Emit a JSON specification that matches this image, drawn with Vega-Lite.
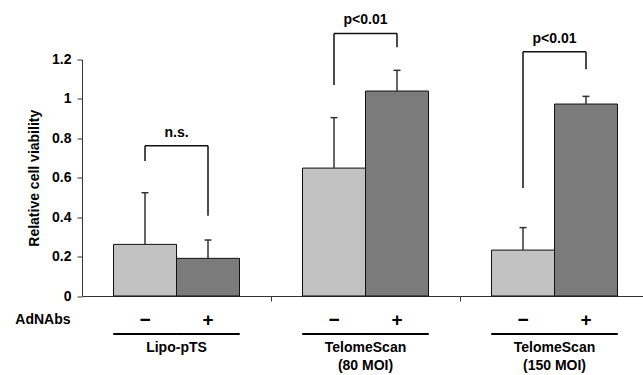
{
  "$schema": "https://vega.github.io/schema/vega-lite/v6.json",
  "autosize": "none",
  "width": 561,
  "height": 236.5,
  "padding": {"left": 82, "top": 59.5, "right": 0, "bottom": 79},
  "background": "white",
  "config": {
    "view": {"stroke": null},
    "font": "Liberation Sans",
    "axis": {
      "labelFont": "Liberation Sans",
      "titleFont": "Liberation Sans",
      "labelFontWeight": "bold",
      "titleFontWeight": "bold",
      "labelColor": "#000",
      "titleColor": "#000",
      "grid": false,
      "domainColor": "#333",
      "tickColor": "#333",
      "labelOverlap": false
    },
    "axisX": {
      "titleX": -12, "titleY": 23, "titleAlign": "right", "titleBaseline": "middle", "titleAngle": 0, "titleFontSize": 14,
      "labelAngle": 0, "labelFontSize": 19, "labelBaseline": "middle", "labelPadding": 18,
      "tickSize": 5, "domainWidth": 1
    },
    "axisY": {
      "labelFontSize": 14, "titleFontSize": 14, "tickSize": 5, "labelPadding": 6, "titlePadding": 10
    }
  },
  "datasets": {
    "bars": [
      {"cond": "L-", "group": "Lipo-pTS", "AdNAbs": "−", "viability": 0.262, "upper": 0.524},
      {"cond": "L+", "group": "Lipo-pTS", "AdNAbs": "+", "viability": 0.191, "upper": 0.284},
      {"cond": "T80-", "group": "TelomeScan (80 MOI)", "AdNAbs": "−", "viability": 0.649, "upper": 0.905},
      {"cond": "T80+", "group": "TelomeScan (80 MOI)", "AdNAbs": "+", "viability": 1.04, "upper": 1.145},
      {"cond": "T150-", "group": "TelomeScan (150 MOI)", "AdNAbs": "−", "viability": 0.233, "upper": 0.347},
      {"cond": "T150+", "group": "TelomeScan (150 MOI)", "AdNAbs": "+", "viability": 0.974, "upper": 1.013}
    ],
    "brackets": [
      {"left": "L-", "right": "L+", "top": 0.763, "leftEnd": 0.685, "rightEnd": 0.407, "label": "n.s."},
      {"left": "T80-", "right": "T80+", "top": 1.332, "leftEnd": 1.07, "rightEnd": 1.262, "label": "p<0.01"},
      {"left": "T150-", "right": "T150+", "top": 1.239, "leftEnd": 0.548, "rightEnd": 1.15, "label": "p<0.01"}
    ],
    "groups": [
      {"pos": "L-", "label": ["Lipo-pTS"]},
      {"pos": "T80-", "label": ["TelomeScan", "(80 MOI)"]},
      {"pos": "T150-", "label": ["TelomeScan", "(150 MOI)"]}
    ]
  },
  "layer": [
    {
      "data": {"name": "bars"},
      "mark": {"type": "bar", "stroke": "#111", "strokeWidth": 1},
      "encoding": {
        "x": {
          "field": "cond", "type": "nominal",
          "scale": {"domain": ["L-", "L+", "gap1", "T80-", "T80+", "gap2", "T150-", "T150+"], "range": [0, 567], "paddingInner": 0, "paddingOuter": 0.5},
          "axis": {"title": "AdNAbs", "labelExpr": "indexof(datum.value,'gap')===0 ? '' : (slice(datum.value,-1)==='-' ? '−' : '+')", "tickOpacity": {"condition": {"test": "indexof(datum.value,'gap')===0", "value": 1}, "value": 0}}
        },
        "y": {
          "field": "viability", "type": "quantitative",
          "scale": {"domain": [0, 1.2], "nice": false},
          "axis": {"title": "Relative cell viability", "values": [0, 0.2, 0.4, 0.6, 0.8, 1, 1.2], "format": "~g"}
        },
        "color": {"field": "AdNAbs", "type": "nominal", "scale": {"domain": ["−", "+"], "range": ["#c2c2c2", "#7b7b7b"]}, "legend": null}
      }
    },
    {
      "data": {"name": "bars"},
      "mark": {"type": "rule", "color": "#333", "strokeWidth": 1.5},
      "encoding": {
        "x": {"field": "cond", "type": "nominal", "bandPosition": 0.5, "axis": {"title": "AdNAbs", "labelExpr": "indexof(datum.value,'gap')===0 ? '' : (slice(datum.value,-1)==='-' ? '−' : '+')", "tickOpacity": {"condition": {"test": "indexof(datum.value,'gap')===0", "value": 1}, "value": 0}}},
        "y": {"field": "viability", "type": "quantitative", "axis": {"title": "Relative cell viability", "values": [0, 0.2, 0.4, 0.6, 0.8, 1, 1.2], "format": "~g"}},
        "y2": {"field": "upper"}
      }
    },
    {
      "data": {"name": "bars"},
      "mark": {"type": "tick", "color": "#333", "size": 7, "thickness": 1.5, "opacity": 1},
      "encoding": {
        "x": {"field": "cond", "type": "nominal", "axis": {"title": "AdNAbs", "labelExpr": "indexof(datum.value,'gap')===0 ? '' : (slice(datum.value,-1)==='-' ? '−' : '+')", "tickOpacity": {"condition": {"test": "indexof(datum.value,'gap')===0", "value": 1}, "value": 0}}},
        "y": {"field": "upper", "type": "quantitative", "axis": {"title": "Relative cell viability", "values": [0, 0.2, 0.4, 0.6, 0.8, 1, 1.2], "format": "~g"}}
      }
    },
    {
      "data": {"name": "brackets"},
      "mark": {"type": "rule", "color": "#111", "strokeWidth": 1.5},
      "encoding": {
        "x": {"field": "left", "type": "nominal", "bandPosition": 0.5, "axis": {"title": "AdNAbs", "labelExpr": "indexof(datum.value,'gap')===0 ? '' : (slice(datum.value,-1)==='-' ? '−' : '+')", "tickOpacity": {"condition": {"test": "indexof(datum.value,'gap')===0", "value": 1}, "value": 0}}},
        "y": {"field": "leftEnd", "type": "quantitative", "axis": {"title": "Relative cell viability", "values": [0, 0.2, 0.4, 0.6, 0.8, 1, 1.2], "format": "~g"}},
        "y2": {"field": "top"}
      }
    },
    {
      "data": {"name": "brackets"},
      "mark": {"type": "rule", "color": "#111", "strokeWidth": 1.5},
      "encoding": {
        "x": {"field": "right", "type": "nominal", "bandPosition": 0.5, "axis": {"title": "AdNAbs", "labelExpr": "indexof(datum.value,'gap')===0 ? '' : (slice(datum.value,-1)==='-' ? '−' : '+')", "tickOpacity": {"condition": {"test": "indexof(datum.value,'gap')===0", "value": 1}, "value": 0}}},
        "y": {"field": "rightEnd", "type": "quantitative", "axis": {"title": "Relative cell viability", "values": [0, 0.2, 0.4, 0.6, 0.8, 1, 1.2], "format": "~g"}},
        "y2": {"field": "top"}
      }
    },
    {
      "data": {"name": "brackets"},
      "mark": {"type": "rule", "color": "#111", "strokeWidth": 1.5},
      "encoding": {
        "x": {"field": "left", "type": "nominal", "bandPosition": 0.5, "axis": {"title": "AdNAbs", "labelExpr": "indexof(datum.value,'gap')===0 ? '' : (slice(datum.value,-1)==='-' ? '−' : '+')", "tickOpacity": {"condition": {"test": "indexof(datum.value,'gap')===0", "value": 1}, "value": 0}}},
        "x2": {"field": "right", "bandPosition": 0.5},
        "y": {"field": "top", "type": "quantitative", "axis": {"title": "Relative cell viability", "values": [0, 0.2, 0.4, 0.6, 0.8, 1, 1.2], "format": "~g"}}
      }
    },
    {
      "data": {"name": "brackets"},
      "mark": {"type": "text", "fontSize": 14, "fontWeight": "bold", "baseline": "middle", "dy": -13, "color": "#000"},
      "encoding": {
        "x": {"field": "left", "type": "nominal", "bandPosition": 1, "axis": {"title": "AdNAbs", "labelExpr": "indexof(datum.value,'gap')===0 ? '' : (slice(datum.value,-1)==='-' ? '−' : '+')", "tickOpacity": {"condition": {"test": "indexof(datum.value,'gap')===0", "value": 1}, "value": 0}}},
        "y": {"field": "top", "type": "quantitative", "axis": {"title": "Relative cell viability", "values": [0, 0.2, 0.4, 0.6, 0.8, 1, 1.2], "format": "~g"}},
        "text": {"field": "label"}
      }
    },
    {
      "data": {"name": "bars"},
      "mark": {"type": "tick", "color": "#000", "size": 63.5, "thickness": 2, "opacity": 1, "yOffset": 38},
      "encoding": {
        "x": {"field": "cond", "type": "nominal", "axis": {"title": "AdNAbs", "labelExpr": "indexof(datum.value,'gap')===0 ? '' : (slice(datum.value,-1)==='-' ? '−' : '+')", "tickOpacity": {"condition": {"test": "indexof(datum.value,'gap')===0", "value": 1}, "value": 0}}},
        "y": {"datum": 0, "type": "quantitative", "axis": {"title": "Relative cell viability", "values": [0, 0.2, 0.4, 0.6, 0.8, 1, 1.2], "format": "~g"}}
      }
    },
    {
      "data": {"name": "groups"},
      "mark": {"type": "text", "fontSize": 14, "fontWeight": "bold", "baseline": "top", "dy": 45, "lineHeight": 18, "color": "#000"},
      "encoding": {
        "x": {"field": "pos", "type": "nominal", "bandPosition": 1, "axis": {"title": "AdNAbs", "labelExpr": "indexof(datum.value,'gap')===0 ? '' : (slice(datum.value,-1)==='-' ? '−' : '+')", "tickOpacity": {"condition": {"test": "indexof(datum.value,'gap')===0", "value": 1}, "value": 0}}},
        "y": {"datum": 0, "type": "quantitative", "axis": {"title": "Relative cell viability", "values": [0, 0.2, 0.4, 0.6, 0.8, 1, 1.2], "format": "~g"}},
        "text": {"field": "label"}
      }
    }
  ]
}
